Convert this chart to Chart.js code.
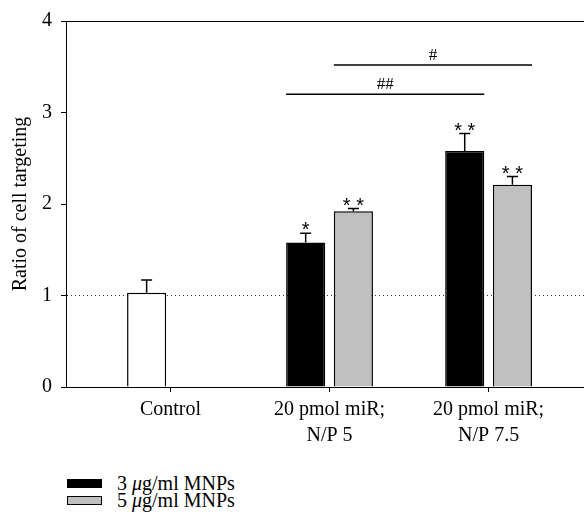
<!DOCTYPE html>
<html>
<head>
<meta charset="utf-8">
<script src="https://cdn.jsdelivr.net/npm/chart.js@4.4.0/dist/chart.umd.min.js"></script>
<style>
  body { margin: 0; background: #fff; }
  #wrap { position: relative; width: 584px; height: 525px; font-family: "Liberation Serif", serif; color: #000; }
  #legend { position: absolute; left: 67px; top: 475px; font-size: 20px; }
  .item { display: flex; align-items: center; height: 17px; }
  .sw { width: 35px; height: 9px; border: 1px solid #000; box-sizing: border-box; margin-right: 15px; }
</style>
</head>
<body>
<div id="wrap">
  <canvas id="graph-bar" width="584" height="455"></canvas>
  <div id="legend">
    <div class="item"><span class="sw" style="background:#000"></span><span>3 <i>μ</i>g/ml MNPs</span></div>
    <div class="item"><span class="sw" style="background:#c0c0c0"></span><span>5 <i>μ</i>g/ml MNPs</span></div>
  </div>
</div>
<script>
const groupPos = [0, 1, 2];
const groupLabels = [['Control'], ['20 pmol miR;', 'N/P 5'], ['20 pmol miR;', 'N/P 7.5']];
const mnp3Values = [1.03, 1.58, 2.58];
const mnp3Errors = [0.14, 0.10, 0.19];
const mnp3Marks = ['', '*', '* *'];
const mnp5Values = [null, 1.92, 2.21];
const mnp5Errors = [null, 0.03, 0.09];
const mnp5Marks = ['', '* *', '* *'];
const barColors3 = ['#ffffff', '#000000', '#000000'];
// significance brackets: dataset, from group, to group, height, mark
const sigDatasets = [0, 1];
const sigFrom = [1, 1];
const sigTo = [2, 2];
const sigLevels = [3.20, 3.52];
const sigMarks = ['##', '#'];
const yTicks = [0, 1, 2, 3, 4];
const refLevel = 1;

const gb = document.getElementById('graph-bar');
const serif = '"Liberation Serif", serif';

// error bars, stars, significance lines and the top frame line
const annotations = {
    id: 'annotations',
    afterDatasetsDraw: function(chart) {
        const ctx = chart.ctx;
        const y = chart.scales.y;
        const area = chart.chartArea;
        ctx.save();
        ctx.strokeStyle = '#000';
        ctx.fillStyle = '#000';

        ctx.lineWidth = 1;
        ctx.beginPath();
        ctx.moveTo(area.left, Math.round(area.top) + 0.5);
        ctx.lineTo(area.right, Math.round(area.top) + 0.5);
        ctx.stroke();

        const sets = [[mnp3Values, mnp3Errors, mnp3Marks], [mnp5Values, mnp5Errors, mnp5Marks]];
        ctx.font = '20px "Liberation Sans", sans-serif';
        ctx.textAlign = 'center';
        ctx.textBaseline = 'alphabetic';
        sets.forEach(function(set, di) {
            const meta = chart.getDatasetMeta(di);
            set[0].forEach(function(v, i) {
                if (v === null) return;
                const bar = meta.data[i];
                const top = y.getPixelForValue(v + set[1][i]);
                ctx.lineWidth = 1.5;
                ctx.beginPath();
                ctx.moveTo(bar.x, bar.y);
                ctx.lineTo(bar.x, top);
                ctx.moveTo(bar.x - 5.5, top);
                ctx.lineTo(bar.x + 5.5, top);
                ctx.stroke();
                if (set[2][i]) {
                    const m = ctx.measureText(set[2][i]);
                    ctx.fillText(set[2][i], bar.x, top - 3 - m.actualBoundingBoxDescent);
                }
            });
        });

        ctx.font = '17px ' + serif;
        sigMarks.forEach(function(mark, k) {
            const meta = chart.getDatasetMeta(sigDatasets[k]);
            const b1 = meta.data[sigFrom[k]];
            const b2 = meta.data[sigTo[k]];
            const x1 = b1.x - b1.width / 2;
            const x2 = b2.x + b2.width / 2;
            const ly = y.getPixelForValue(sigLevels[k]);
            ctx.lineWidth = 1.5;
            ctx.beginPath();
            ctx.moveTo(x1, ly);
            ctx.lineTo(x2, ly);
            ctx.stroke();
            const m = ctx.measureText(mark);
            ctx.fillText(mark, (x1 + x2) / 2, ly - 5 - m.actualBoundingBoxDescent);
        });
        ctx.restore();
    }
};

const ch_gb = new Chart(gb, {
    type: 'bar',
    data: {
        datasets: [{
            label: '3 µg/ml MNPs',
            data: groupPos.map(function(x, i) { return {x: x, y: mnp3Values[i]}; }),
            backgroundColor: barColors3,
            borderColor: '#000',
            borderWidth: 1.5
        }, {
            label: '5 µg/ml MNPs',
            data: groupPos.map(function(x, i) { return {x: x, y: mnp5Values[i]}; }),
            backgroundColor: '#c0c0c0',
            borderColor: '#000',
            borderWidth: 1.5
        }]
    },
    options: {
        responsive: false,
        animation: false,
        categoryPercentage: 0.6,
        barPercentage: 0.82,
        layout: {padding: {top: 19, right: 0, left: 0, bottom: 0}},
        plugins: {
            legend: {display: false},
            tooltip: {enabled: false}
        },
        scales: {
            x: {
                type: 'linear',
                offset: false,
                min: -0.657,
                max: 2.6,
                afterBuildTicks: function(scale) {
                    scale.ticks = groupPos.map(function(v) { return {value: v}; });
                },
                afterFit: function(scale) { scale.height = 68; },
                ticks: {
                    color: '#000',
                    padding: 5,
                    font: {family: serif, size: 20, lineHeight: 1.3},
                    maxRotation: 0,
                    callback: function(value) { return groupLabels[value]; }
                },
                grid: {drawOnChartArea: false, offset: false, tickLength: 5, tickColor: '#000'},
                border: {color: '#000', width: 1}
            },
            y: {
                min: 0,
                max: 4,
                afterBuildTicks: function(scale) {
                    scale.ticks = yTicks.map(function(v) { return {value: v}; });
                },
                afterFit: function(scale) { scale.width = 66; },
                ticks: {color: '#000', padding: 9, font: {family: serif, size: 20}},
                title: {
                    display: true,
                    text: 'Ratio of cell targeting',
                    color: '#000',
                    font: {family: serif, size: 20},
                    padding: {top: 9, bottom: 0}
                },
                grid: {
                    tickLength: 5,
                    tickColor: '#000',
                    lineWidth: 1,
                    color: function(c) { return c.tick && c.tick.value === refLevel ? '#333' : 'rgba(0,0,0,0)'; }
                },
                border: {color: '#000', width: 1, dash: [1, 3]}
            }
        }
    },
    plugins: [annotations]
});
</script>
</body>
</html>
